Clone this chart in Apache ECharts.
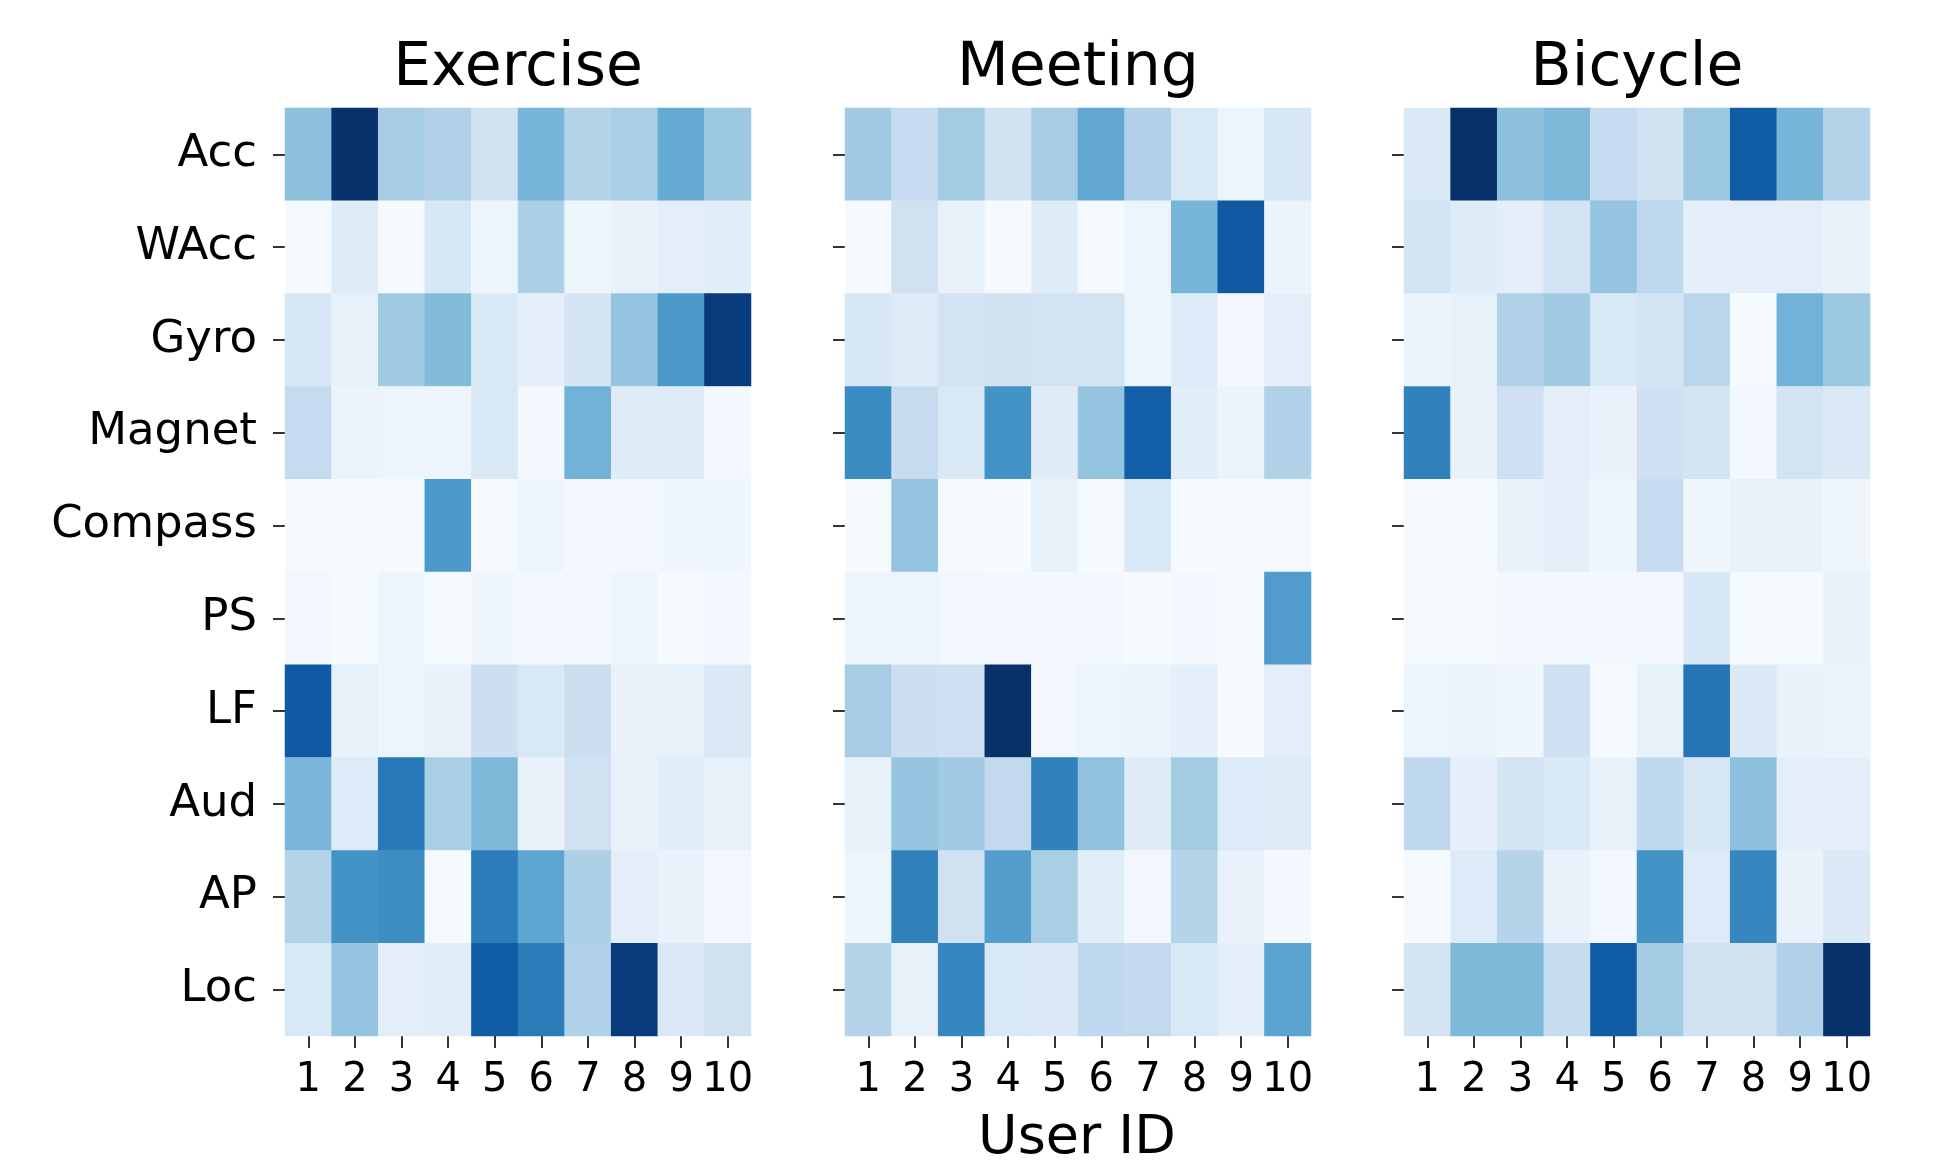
<!DOCTYPE html>
<html>
<head>
<meta charset="utf-8">
<script src="https://cdn.jsdelivr.net/npm/echarts@6/dist/echarts.min.js"></script>
<style>
  html, body { margin: 0; padding: 0; background: #fff; }
  #main { width: 1942px; height: 1167px; }
</style>
</head>
<body>
<div id="main"></div>
<script>
var sensors = ['Acc', 'WAcc', 'Gyro', 'Magnet', 'Compass', 'PS', 'LF', 'Aud', 'AP', 'Loc'];
var users = ['1', '2', '3', '4', '5', '6', '7', '8', '9', '10'];
var panels = ['Exercise', 'Meeting', 'Bicycle'];

// rows = sensors, columns = users 1..10 (relative importance, 0..1)
var exercise = [
     [0.42, 1.00, 0.35, 0.32, 0.20, 0.47, 0.30, 0.34, 0.52, 0.38],
     [0.01, 0.12, 0.01, 0.16, 0.05, 0.33, 0.05, 0.07, 0.10, 0.11],
     [0.16, 0.08, 0.37, 0.44, 0.15, 0.09, 0.17, 0.40, 0.59, 0.96],
     [0.25, 0.06, 0.05, 0.05, 0.15, 0.03, 0.48, 0.12, 0.12, 0.02],
     [0.01, 0.01, 0.01, 0.59, 0.01, 0.05, 0.02, 0.02, 0.04, 0.04],
     [0.03, 0.01, 0.05, 0.01, 0.04, 0.02, 0.03, 0.05, 0.01, 0.02],
     [0.84, 0.08, 0.05, 0.07, 0.22, 0.15, 0.23, 0.07, 0.08, 0.14],
     [0.46, 0.13, 0.72, 0.34, 0.45, 0.07, 0.20, 0.07, 0.11, 0.08],
     [0.31, 0.62, 0.64, 0.01, 0.71, 0.54, 0.33, 0.10, 0.07, 0.03],
     [0.15, 0.40, 0.10, 0.11, 0.83, 0.71, 0.32, 0.96, 0.14, 0.20]
];
var meeting = [
     [0.37, 0.25, 0.36, 0.20, 0.35, 0.53, 0.32, 0.15, 0.05, 0.16],
     [0.01, 0.20, 0.08, 0.01, 0.12, 0.01, 0.05, 0.47, 0.84, 0.06],
     [0.16, 0.12, 0.19, 0.20, 0.19, 0.19, 0.05, 0.13, 0.02, 0.10],
     [0.65, 0.24, 0.15, 0.62, 0.12, 0.40, 0.82, 0.11, 0.06, 0.32],
     [0.01, 0.40, 0.01, 0.01, 0.08, 0.01, 0.15, 0.01, 0.01, 0.01],
     [0.05, 0.05, 0.03, 0.02, 0.02, 0.02, 0.01, 0.02, 0.01, 0.58],
     [0.35, 0.22, 0.21, 1.00, 0.03, 0.05, 0.06, 0.09, 0.01, 0.10],
     [0.08, 0.40, 0.37, 0.26, 0.69, 0.41, 0.12, 0.36, 0.13, 0.12],
     [0.05, 0.69, 0.20, 0.57, 0.34, 0.11, 0.03, 0.30, 0.07, 0.02],
     [0.30, 0.08, 0.67, 0.15, 0.14, 0.27, 0.26, 0.15, 0.09, 0.55]
];
var bicycle = [
     [0.14, 1.00, 0.42, 0.45, 0.25, 0.20, 0.38, 0.83, 0.47, 0.31],
     [0.19, 0.12, 0.10, 0.19, 0.40, 0.27, 0.09, 0.10, 0.10, 0.07],
     [0.06, 0.08, 0.32, 0.37, 0.15, 0.18, 0.29, 0.01, 0.48, 0.38],
     [0.69, 0.07, 0.21, 0.09, 0.07, 0.21, 0.18, 0.02, 0.19, 0.14],
     [0.01, 0.01, 0.07, 0.09, 0.04, 0.25, 0.04, 0.07, 0.07, 0.04],
     [0.01, 0.01, 0.02, 0.02, 0.02, 0.02, 0.16, 0.01, 0.01, 0.07],
     [0.05, 0.06, 0.04, 0.21, 0.01, 0.08, 0.74, 0.14, 0.07, 0.06],
     [0.27, 0.09, 0.18, 0.15, 0.08, 0.27, 0.16, 0.42, 0.10, 0.10],
     [0.01, 0.13, 0.30, 0.07, 0.03, 0.62, 0.13, 0.67, 0.07, 0.14],
     [0.18, 0.45, 0.45, 0.24, 0.83, 0.36, 0.20, 0.20, 0.32, 1.00]
];

var blues = ['#f7fbff', '#deebf7', '#c6dbef', '#9ecae1', '#6baed6', '#4292c6', '#2171b5', '#08519c', '#08306b'];
var font = 'DejaVu Sans';

function toCells(m) {
     var out = [];
     for (var r = 0; r < m.length; r++) {
          for (var c = 0; c < m[r].length; c++) {
               out.push([c, r, m[r][c]]);
          }
     }
     return out;
}

var mats = [exercise, meeting, bicycle];
var lefts = [285, 845, 1404];
var gw = 466, gtop = 108, gh = 928;

var grids = [], xAxes = [], yAxes = [], series = [], vmaps = [], texts = [];
for (var i = 0; i < 3; i++) {
     grids.push({ left: lefts[i], top: gtop, width: gw, height: gh });
     xAxes.push({
          type: 'category', gridIndex: i, data: users,
          axisLine: { show: false },
          axisTick: { show: true, interval: 0, alignWithLabel: true, length: 12, lineStyle: { color: '#000', width: 1.6 } },
          axisLabel: { interval: 0, margin: 25, fontSize: 40, fontFamily: font, color: '#000' },
          splitLine: { show: false }
     });
     yAxes.push({
          type: 'category', gridIndex: i, data: sensors, inverse: true,
          axisLine: { show: false },
          axisTick: { show: true, interval: 0, alignWithLabel: true, length: 12, lineStyle: { color: '#000', width: 1.6 } },
          axisLabel: { show: i === 0, interval: 0, margin: 28, fontSize: 45, fontFamily: font, color: '#000' },
          splitLine: { show: false }
     });
     series.push({
          type: 'heatmap', xAxisIndex: i, yAxisIndex: i,
          data: toCells(mats[i]),
          itemStyle: { borderWidth: 0 },
          emphasis: { disabled: true }
     });
     vmaps.push({
          type: 'continuous', seriesIndex: i, min: 0, max: 1, show: false,
          inRange: { color: blues }
     });
     texts.push({
          type: 'text', x: lefts[i] + gw / 2, y: 69,
          style: { text: panels[i], fontSize: 60, fontFamily: font, fill: '#000', textAlign: 'center', textVerticalAlign: 'middle' }
     });
}
texts.push({
     type: 'text', x: 1077, y: 1139,
     style: { text: 'User ID', fontSize: 54, fontFamily: font, fill: '#000', textAlign: 'center', textVerticalAlign: 'middle' }
});

var chart = echarts.init(document.getElementById('main'));
chart.setOption({
     backgroundColor: '#fff',
     animation: false,
     grid: grids,
     xAxis: xAxes,
     yAxis: yAxes,
     visualMap: vmaps,
     series: series,
     graphic: texts
});
</script>
</body>
</html>
